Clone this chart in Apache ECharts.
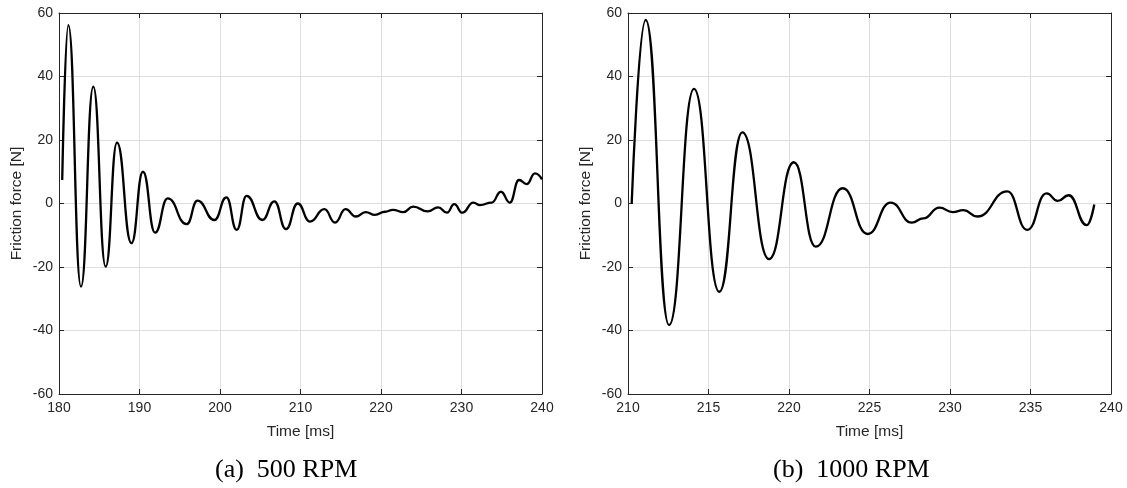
<!DOCTYPE html>
<html><head><meta charset="utf-8">
<script src="https://cdn.jsdelivr.net/npm/echarts@6/dist/echarts.min.js"></script>
<style>html,body{margin:0;padding:0;background:#fff}#c{width:1127px;height:488px}</style>
</head><body><div id="c"></div>
<script>
// (a) 500 RPM
const timeA = [180.4, 181.16, 182.73, 184.26, 185.8, 187.2, 189.0, 190.43, 191.93, 193.5, 195.86, 197.2, 199.3, 200.8, 202.07, 203.3, 205.26, 206.75, 208.2, 209.65, 211.18, 212.96, 214.29, 215.6, 216.86, 218.1, 219.25, 220.5, 221.5, 222.77, 224.0, 225.8, 227.1, 228.2, 229.1, 230.1, 231.47, 232.3, 233.75, 234.9, 236.0, 237.14, 238.1, 239.13, 240.0];
const forceA = [7.4, 56.2, -26.2, 36.8, -19.9, 19.2, -12.5, 10.0, -9.2, 1.6, -6.5, 0.9, -5.2, 1.9, -8.3, 2.4, -5.2, 0.7, -8.1, 0.0, -5.7, -1.8, -6.0, -1.8, -4.1, -2.7, -3.6, -2.6, -2.0, -2.7, -1.0, -2.5, -1.2, -2.9, -0.2, -2.9, 0.3, -0.5, 0.3, 3.7, 0.3, 7.4, 6.1, 9.5, 7.6];
// (b) 1000 RPM
const timeB = [210.23, 211.1, 212.55, 214.1, 215.67, 217.1, 218.76, 220.3, 221.66, 223.34, 224.88, 226.32, 227.62, 228.34, 229.34, 230.17, 230.83, 231.7, 233.56, 234.8, 236.0, 236.69, 237.37, 238.49, 238.96];
const forceB = [0, 57.8, -38.3, 36.1, -27.8, 22.4, -17.5, 13.0, -13.6, 4.8, -9.6, 0.3, -6.0, -4.7, -1.3, -2.7, -2.1, -4.1, 3.8, -8.3, 3.2, 0.8, 2.6, -6.8, -0.3];

const xRangeA = [180, 240], xStepA = 10;
const xRangeB = [210, 240], xStepB = 5;
const yRange = [-60, 60], yStep = 20;
const xName = 'Time [ms]';
const yName = 'Friction force [N]';
const captions = ['(a)  500 RPM', '(b)  1000 RPM'];

const AX = '#262626';
const GRIDC = '#dedede';
const FONT = '"Liberation Sans", Arial, Helvetica, sans-serif';

function pairs(xs, ys) { return xs.map((x, i) => [x, ys[i]]); }

const grids = [
  { left: 59, top: 13, width: 483, height: 381 },
  { left: 628, top: 13, width: 483, height: 381 }
];

const xAxes = [], yAxes = [];
[[xRangeA, xStepA], [xRangeB, xStepB]].forEach(([r, step], g) => {
  xAxes.push({
    gridIndex: g, type: 'value', position: 'bottom', min: r[0], max: r[1], interval: step,
    name: xName, nameLocation: 'middle', nameGap: 30,
    nameTextStyle: { color: AX, fontFamily: FONT, fontSize: 15.5 },
    axisLine: { show: true, onZero: false, lineStyle: { color: AX, width: 1 } },
    axisTick: { show: true, inside: true, length: 5, lineStyle: { color: AX } },
    axisLabel: { color: AX, fontFamily: FONT, fontSize: 14, margin: 7 },
    splitLine: { show: true, lineStyle: { color: GRIDC, width: 1 } }
  });
  xAxes.push({
    gridIndex: g, type: 'value', position: 'top', min: r[0], max: r[1], interval: step,
    axisLine: { show: true, onZero: false, lineStyle: { color: AX, width: 1 } },
    axisTick: { show: true, inside: true, length: 5, lineStyle: { color: AX } },
    axisLabel: { show: false }, splitLine: { show: false }
  });
  yAxes.push({
    gridIndex: g, type: 'value', position: 'left', min: yRange[0], max: yRange[1], interval: yStep,
    name: yName, nameLocation: 'middle', nameGap: 34,
    nameTextStyle: { color: AX, fontFamily: FONT, fontSize: 15.5 },
    axisLine: { show: true, onZero: false, lineStyle: { color: AX, width: 1 } },
    axisTick: { show: true, inside: true, length: 5, lineStyle: { color: AX } },
    axisLabel: { color: AX, fontFamily: FONT, fontSize: 14, margin: 6 },
    splitLine: { show: true, lineStyle: { color: GRIDC, width: 1 } }
  });
  yAxes.push({
    gridIndex: g, type: 'value', position: 'right', min: yRange[0], max: yRange[1], interval: yStep,
    axisLine: { show: true, onZero: false, lineStyle: { color: AX, width: 1 } },
    axisTick: { show: true, inside: true, length: 5, lineStyle: { color: AX } },
    axisLabel: { show: false }, splitLine: { show: false }
  });
});

const lineSeries = (xi, yi, data) => ({
  type: 'line', xAxisIndex: xi, yAxisIndex: yi, data,
  showSymbol: false, symbol: 'none', smooth: 0.5, smoothMonotone: 'x',
  lineStyle: { color: '#000', width: 2.3 }, animation: false, z: 5
});

const chart = echarts.init(document.getElementById('c'), null, { renderer: 'canvas' });
chart.setOption({
  animation: false,
  backgroundColor: '#fff',
  grid: grids,
  xAxis: xAxes,
  yAxis: yAxes,
  series: [
    lineSeries(0, 0, pairs(timeA, forceA)),
    lineSeries(2, 2, pairs(timeB, forceB))
  ],
  graphic: [
    { type: 'text', left: 215, top: 457, style: { text: captions[0], fill: '#000', font: '26px "Liberation Serif", "Times New Roman", serif' } },
    { type: 'text', left: 773, top: 457, style: { text: captions[1], fill: '#000', font: '26px "Liberation Serif", "Times New Roman", serif' } }
  ]
});
</script>
</body></html>
